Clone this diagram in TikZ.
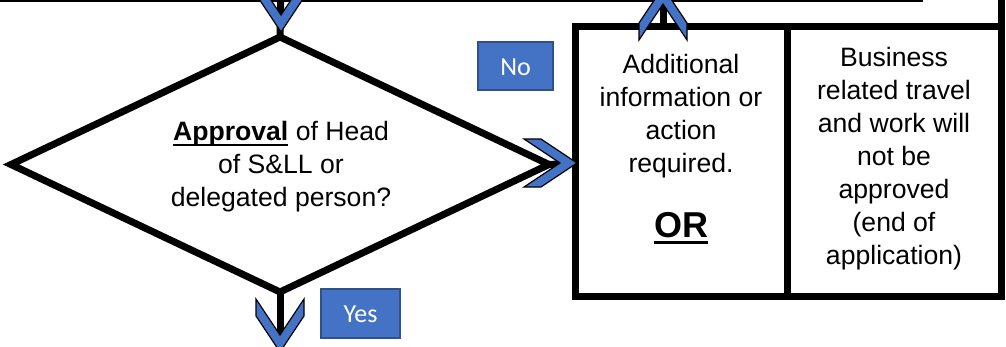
\documentclass[tikz,border=0pt]{standalone}
\usepackage{fontspec}
\setmainfont{Liberation Sans}
\newfontfamily\carlito{Carlito}
\usetikzlibrary{shapes.geometric,calc}
\definecolor{lblue}{HTML}{4472C4}
\definecolor{dblue}{HTML}{2F528F}
\newcommand\ulbar[3]{\setbox0\hbox{#1}\rlap{\rule[-#2]{\wd0}{#3}}\box0\relax}
\newcommand\mychev[2]{%
  \filldraw[fill=lblue,draw=black,line width=1.2pt,line join=miter,shift={(#1)},rotate=#2]
    (0,0) -- (-36,24) -- (-53,24) -- (-17,0) -- (-53,-24) -- (-36,-24) -- cycle;}
\begin{document}
\begin{tikzpicture}[x=1pt,y=-1pt,
  heavy/.style={line width=7pt,draw=black},
  boxstyle/.style={rectangle,heavy,minimum width=#1,minimum height=270pt,inner sep=0pt,outer sep=0pt},
  txt/.style={align=center,inner sep=0pt,font=\fontsize{26.6}{33}\selectfont},
  lbl/.style={rectangle,fill=lblue,draw=dblue,line width=1.2pt,text=white,inner sep=0pt,
    font=\carlito\fontsize{26}{30}\selectfont,text height=18pt,text depth=-7pt}]
\useasboundingbox (0,0) rectangle (1006,346);
\clip (0,0) rectangle (1006,346);
\fill[white] (0,0) rectangle (1006,346);

% shapes
\node[diamond,heavy,minimum width=538pt,minimum height=255pt,inner sep=0pt,outer sep=0pt,line join=miter] (dia) at (280,164.5) {};
\node[boxstyle=212pt] (lbox) at (681,161) {};
\node[boxstyle=214pt] (rbox) at (894,161) {};

% free ends
\coordinate (tlA) at (-10,-1.5);
\coordinate (tlB) at (923,-1.5);
\coordinate (rtop) at (1001,-10);
\coordinate (dtop) at (281,-10);
\coordinate (dtip) at (281,32);
\coordinate (utop) at (663,-20);
\coordinate (utip) at (663,-13);
\coordinate (rtip) at (577,163);
\coordinate (bend) at (280,360);
\coordinate (btip) at (280,352);

% lines and connectors
\draw[heavy] (tlA) -- (tlB);
\draw[heavy] (rbox.north east) -- (rtop);
\draw[heavy] (dtop) -- (dia.north);
\draw[heavy] (lbox.north -| utip) -- (utop);
\draw[heavy] (dia.east) -- (rtip);
\draw[heavy] (dia.south) -- (bend);
\mychev{dtip}{-90}
\mychev{utip}{90}
\mychev{rtip}{0}
\mychev{btip}{-90}

% texts
\node[txt,anchor=north] (dtext) at (281,120.6)
  {\ulbar{\textbf{Approval}}{6pt}{2pt} of Head\\of S\&LL or\\delegated person?};
\node[txt,anchor=north] (ltext) at (681,53.6)
  {Additional\\information or\\action\\required.};
\node[inner sep=0pt,anchor=base,font=\bfseries\fontsize{36}{40}\selectfont] (or) at (681,237)
  {\ulbar{OR}{7pt}{3pt}};
\node[txt,anchor=north] (rtext) at (894,46.6)
  {Business\\related travel\\and work will\\not be\\approved\\(end of\\application)};

% labels
\node[lbl,minimum width=75pt,minimum height=48pt] (no) at (515.5,66) {No};
\node[lbl,minimum width=79pt,minimum height=49pt] (yes) at (360.5,313.5) {Yes};
\end{tikzpicture}
\end{document}
